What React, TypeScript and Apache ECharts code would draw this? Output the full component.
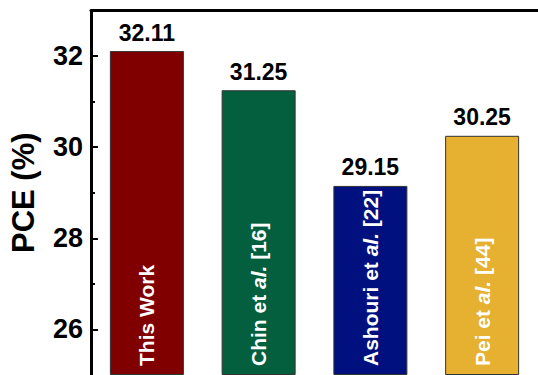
import React, { useEffect, useRef } from "react";
import * as echarts from "echarts";

// Power conversion efficiency of this work versus reported devices
const categories = ["This Work", "Chin et al. [16]", "Ashouri et al. [22]", "Pei et al. [44]"];
const pceValues = [32.11, 31.25, 29.15, 30.25];
const barColors = ["#800000", "#035F3D", "#00107F", "#E6B030"];
const majorTicks = [26, 28, 30, 32];
const minorTicks = [27, 29, 31];

const FONT = "'Liberation Sans', Arial, Helvetica, sans-serif";

// Inner bar caption: "al." is set in italics
function captionRich(name: string): string {
  const idx = name.indexOf(" al.");
  if (idx < 0) return `{n|${name}}`;
  const head = name.slice(0, idx + 1);
  const tail = name.slice(idx + 4);
  return `{n|${head}}{i|al.}{n|${tail}}`;
}

export default function App() {
  const ref = useRef<HTMLDivElement>(null);

  useEffect(() => {
    if (!ref.current) return;
    const chart = echarts.init(ref.current, undefined, { renderer: "svg" });

    const data = pceValues.map((v, i) => ({
      value: v,
      itemStyle: { color: barColors[i] },
    }));

    chart.setOption({
      animation: false,
      backgroundColor: "#ffffff",
      textStyle: { fontFamily: FONT },
      grid: { left: 88.5, top: 10.5, width: 452, height: 365 },
      xAxis: [
        {
          type: "category",
          data: categories,
          axisLine: { show: false },
          axisTick: { show: false },
          axisLabel: { show: false },
        },
        {
          type: "category",
          data: categories,
          position: "top",
          axisLine: { show: true, lineStyle: { color: "#000", width: 3 } },
          axisTick: { show: false },
          axisLabel: { show: false },
        },
      ],
      yAxis: [
        {
          type: "value",
          min: 25,
          max: 33,
          interval: 1,
          startValue: 25,
          name: "PCE (%)",
          nameLocation: "middle",
          nameGap: 52,
          nameTextStyle: { fontFamily: FONT, fontWeight: "bold", fontSize: 31, color: "#000" },
          axisLine: { show: true, lineStyle: { color: "#000", width: 3 } },
          axisTick: {
            show: true,
            inside: true,
            length: 7,
            customValues: majorTicks,
            lineStyle: { color: "#000", width: 2 },
          },
          splitLine: { show: false },
          axisLabel: {
            margin: 8,
            customValues: majorTicks,
            fontFamily: FONT,
            fontWeight: "bold",
            fontSize: 27,
            color: "#000",
          },
        },
        {
          // short minor ticks on the odd values
          type: "value",
          min: 25,
          max: 33,
          interval: 1,
          position: "left",
          axisLine: { show: false },
          axisTick: {
            show: true,
            inside: true,
            length: 4,
            customValues: minorTicks,
            lineStyle: { color: "#000", width: 2 },
          },
          axisLabel: { show: false },
          splitLine: { show: false },
        },
      ],
      series: [
        {
          type: "bar",
          data,
          barWidth: 74,
          itemStyle: { borderColor: "#333", borderWidth: 1 },
          label: {
            show: true,
            position: "top",
            distance: 7,
            fontFamily: FONT,
            fontWeight: "bold",
            fontSize: 23,
            color: "#000",
            formatter: (p: any) => p.value.toFixed(2),
          },
        },
        {
          // white captions written up the bars
          type: "bar",
          data: pceValues,
          barWidth: 74,
          barGap: "-100%",
          itemStyle: { color: "transparent" },
          silent: true,
          label: {
            show: true,
            position: "insideBottom",
            rotate: 90,
            align: "left",
            verticalAlign: "middle",
            distance: 9,
            color: "#fff",
            formatter: (p: any) => captionRich(categories[p.dataIndex]),
            rich: {
              n: { fontFamily: FONT, fontWeight: "bold", fontSize: 21, color: "#fff" },
              i: { fontFamily: FONT, fontWeight: "bold", fontStyle: "italic", fontSize: 21, color: "#fff" },
            },
          },
        },
      ],
    });

    return () => chart.dispose();
  }, []);

  return (
    <div
      ref={ref}
      style={{ position: "absolute", left: 0, top: 0, width: 538, height: 375, background: "#fff" }}
    />
  );
}
